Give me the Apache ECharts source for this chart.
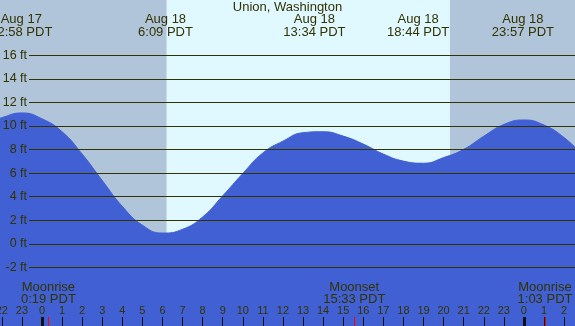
<!DOCTYPE html>
<html>
<head>
<meta charset="utf-8">
<title>Union, Washington</title>
<script src="https://cdn.jsdelivr.net/npm/echarts@6/dist/echarts.min.js"></script>
<style>
    html, body { margin: 0; padding: 0; background: #b0c4da; }
    #chart { width: 575px; height: 326px; }
</style>
</head>
<body>
<div id="chart"></div>
<script>
// hours counted from midnight Aug 18 (negative = Aug 17, >24 = Aug 19)
var hours   = [-3, -2, -1, 0, 1, 2, 3, 4, 5, 6, 7, 8, 9, 10, 11, 12, 13, 14, 15, 16, 17, 18, 19, 20, 21, 22, 23, 24, 25, 26, 27];
// tide height in feet
var heights = [10.1, 10.7, 11.1, 10.6, 9.5, 7.6, 5.35, 3.15, 1.55, 0.88, 1.2, 2.25, 4.05, 5.95, 7.7, 8.7, 9.42, 9.5, 9.13, 8.45, 7.6, 7.0, 6.82, 7.3, 8.0, 9.12, 10.12, 10.5, 10.07, 9.0, 7.4];

// high / low tide labels at the top
var tideDays   = ['Aug 17', 'Aug 18', 'Aug 18', 'Aug 18', 'Aug 18'];
var tideTimes  = ['22:58', '6:09', '13:34', '18:44', '23:57'];
var tideOffset = [-24, 0, 0, 0, 0];

// moon events at the bottom
var moonNames  = ['Moonrise', 'Moonset', 'Moonrise'];
var moonTimes  = ['0:19', '15:33', '1:03'];
var moonOffset = [0, 0, 24];

// sun (daylight band)
var sunrise = '6:12';
var sunset  = '20:19';

// hour tick labels along the bottom
var hourTicks = [-2, -1, 0, 1, 2, 3, 4, 5, 6, 7, 8, 9, 10, 11, 12, 13, 14, 15, 16, 17, 18, 19, 20, 21, 22, 23, 24, 25, 26];
var midnights = [0, 24];

function toHour(str, off) {
    var p = str.split(':');
    return +p[0] + (+p[1]) / 60 + (off || 0);
}
function findIdx(arr, v) {
    for (var i = 0; i < arr.length; i++) {
        if (Math.abs(arr[i] - v) < 1e-6) return i;
    }
    return -1;
}

var tideHours = tideTimes.map(function (t, i) { return toHour(t, tideOffset[i]); });
var moonHours = moonTimes.map(function (t, i) { return toHour(t, moonOffset[i]); });
var tideData = hours.map(function (h, i) { return [h, heights[i]]; });

var textColor = '#333300';
var font = 'Liberation Sans';
var xMin = -2.092, xMax = 26.544;

var chart = echarts.init(document.getElementById('chart'));

var option = {
    backgroundColor: '#b0c4da',
    animation: false,
    title: {
        text: 'Union, Washington',
        left: 'center',
        top: 1,
        padding: 0,
        textStyle: { fontFamily: font, fontSize: 13, fontWeight: 'normal', color: textColor, lineHeight: 13 }
    },
    grid: [
        { left: 0, right: 0, top: 0, bottom: 0, outerBoundsMode: 'none', containLabel: false },
        { left: 29, right: 0, top: 55.4, bottom: 58.7, outerBoundsMode: 'none', containLabel: false }
    ],
    xAxis: [
        // hour ticks + labels
        {
            type: 'value', gridIndex: 0, min: xMin, max: xMax, position: 'bottom', z: 5,
            axisLine: { show: false, onZero: false },
            splitLine: { show: false },
            axisTick: { show: true, inside: true, length: 9, customValues: hourTicks, lineStyle: { color: '#111', width: 1 } },
            axisLabel: {
                show: true, inside: true, margin: 9, customValues: hourTicks,
                alignMinLabel: 'center', alignMaxLabel: 'center',
                fontFamily: font, fontSize: 11, lineHeight: 12, color: textColor,
                formatter: function (v) { return String(((v % 24) + 24) % 24); }
            }
        },
        // thick midnight ticks
        {
            type: 'value', gridIndex: 0, min: xMin, max: xMax, position: 'bottom', z: 5,
            axisLine: { show: false, onZero: false },
            splitLine: { show: false },
            axisTick: { show: true, inside: true, length: 9, customValues: midnights, lineStyle: { color: '#111', width: 3 } },
            axisLabel: { show: false }
        },
        // moon events
        {
            type: 'value', gridIndex: 0, min: xMin, max: xMax, position: 'bottom', z: 6,
            axisLine: { show: false, onZero: false },
            splitLine: { show: false },
            axisTick: { show: true, inside: true, length: 9, customValues: moonHours, lineStyle: { color: '#ff0000', width: 1 } },
            axisLabel: {
                show: true, inside: true, margin: 21, customValues: moonHours,
                fontFamily: font, fontSize: 13, lineHeight: 12, color: textColor,
                formatter: function (v) {
                    var i = findIdx(moonHours, v);
                    return i < 0 ? '' : moonNames[i] + '\n' + moonTimes[i] + ' PDT';
                }
            }
        },
        // tide extremes at the top
        {
            type: 'value', gridIndex: 0, min: xMin, max: xMax, position: 'top', z: 5,
            axisLine: { show: false, onZero: false },
            splitLine: { show: false },
            axisTick: { show: false },
            axisLabel: {
                show: true, inside: true, margin: 13.5, customValues: tideHours,
                alignMinLabel: 'center',
                fontFamily: font, fontSize: 13, lineHeight: 12.3, color: textColor,
                formatter: function (v) {
                    var i = findIdx(tideHours, v);
                    return i < 0 ? '' : tideDays[i] + '\n' + tideTimes[i] + ' PDT';
                }
            }
        },
        { type: 'value', gridIndex: 1, show: false, min: 0, max: 1 }
    ],
    yAxis: [
        { type: 'value', gridIndex: 0, min: -7.03, max: 20.71, show: false },
        {
            type: 'value', gridIndex: 1, min: -2, max: 16, interval: 2, z: 4,
            axisLine: { show: false },
            axisTick: { show: false },
            splitLine: { show: true, lineStyle: { color: '#333300', width: 1 } },
            axisLabel: {
                margin: 2, fontFamily: font, fontSize: 12.5, color: textColor,
                formatter: '{value} ft'
            }
        }
    ],
    series: [
        {
            name: 'Tide',
            type: 'line',
            xAxisIndex: 0,
            yAxisIndex: 0,
            data: tideData,
            smooth: true,
            symbol: 'none',
            lineStyle: { color: '#4160d4', width: 1 },
            areaStyle: { color: '#4160d4', opacity: 1, origin: 'start' },
            markArea: {
                silent: true,
                itemStyle: { color: '#e0f8ff' },
                data: [[{ xAxis: toHour(sunrise) }, { xAxis: toHour(sunset) }]]
            }
        }
    ]
};

chart.setOption(option);
</script>
</body>
</html>
